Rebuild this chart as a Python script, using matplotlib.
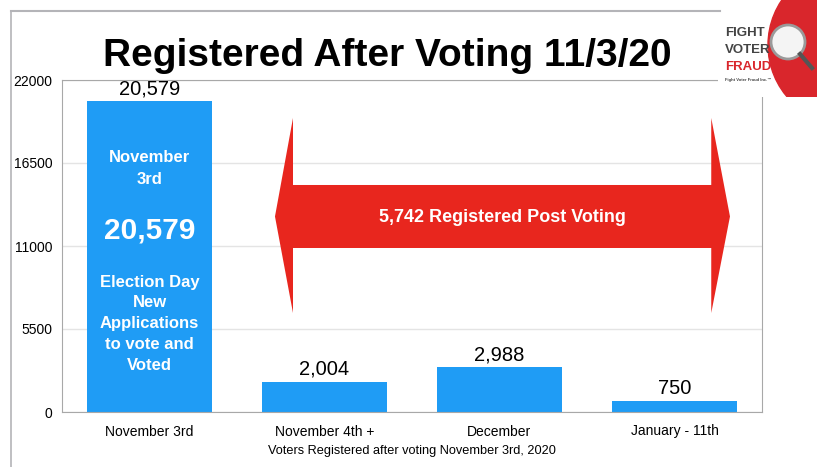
import matplotlib
matplotlib.use("Agg")
import matplotlib.pyplot as plt
from matplotlib.patches import Polygon, Circle, Rectangle
from matplotlib.lines import Line2D

plt.rcParams["font.family"] = ["Liberation Sans", "DejaVu Sans"]

# data
categories = ["November 3rd", "November 4th +", "December", "January - 11th"]
registered = [20579, 2004, 2988, 750]
value_labels = ["20,579", "2,004", "2,988", "750"]
y_ticks = [0, 5500, 11000, 16500, 22000]
post_voting_total = "5,742 Registered Post Voting"

BLUE = "#1f9cf5"
RED = "#e8261e"

fig = plt.figure(figsize=(8.17, 4.67), dpi=100)
ax = fig.add_axes([62 / 817, 1 - 412 / 467, 700 / 817, 332 / 467])

x = list(range(len(categories)))
ax.bar(x, registered, width=0.714, color=BLUE, zorder=2)
ax.set_xlim(-0.5, 3.5)
ax.set_ylim(0, 22000)
ax.set_yticks(y_ticks)
ax.set_yticklabels([str(t) for t in y_ticks], fontsize=10)
ax.set_xticks(x)
ax.set_xticklabels(categories, fontsize=10)
ax.tick_params(length=0, pad=7)
ax.tick_params(axis="x", pad=9)
ax.grid(axis="y", color="#e4e4e4", linewidth=1, zorder=0)
for s in ax.spines.values():
    s.set_color("#a8a8a8")
ax.set_xlabel("Voters Registered after voting November 3rd, 2020", fontsize=9.2, labelpad=5)

# value labels above bars
for xi, v, lab in zip(x, registered, value_labels):
    ax.annotate(lab, (xi, v), xytext=(0, 2), textcoords="offset points",
                ha="center", va="bottom", fontsize=14.5)

# text inside the first bar
ax.text(0, 16150, "November\n3rd", color="white", fontweight="bold",
        fontsize=12, ha="center", va="center", linespacing=1.55)
ax.text(0, 12060, value_labels[0], color="white", fontweight="bold",
        fontsize=21.5, ha="center", va="center")
ax.text(0, 5850, "Election Day\nNew\nApplications\nto vote and\nVoted", color="white",
        fontweight="bold", fontsize=12, ha="center", va="center", linespacing=1.48)

# double-headed red arrow
arrow = Polygon([(0.717, 12956), (0.82, 19483), (0.82, 15043), (3.21, 15043),
                 (3.21, 19483), (3.317, 12956), (3.21, 6561), (3.21, 10868),
                 (0.82, 10868), (0.82, 6561)], closed=True, color=RED, zorder=3, lw=0)
ax.add_patch(arrow)
ax.text(2.017, 12900, post_voting_total, color="white", fontweight="bold",
        fontsize=13, ha="center", va="center", zorder=4)

# title
fig.text(387 / 817, 1 - 66 / 467, "Registered After Voting 11/3/20",
         ha="center", va="baseline", fontsize=28, fontweight="bold")

# screenshot border
fig.add_artist(Line2D([11 / 817, 720 / 817], [1 - 11 / 467, 1 - 11 / 467],
                      transform=fig.transFigure, color="#b4b4b8", lw=1.5))
fig.add_artist(Line2D([11 / 817, 11 / 817], [1 - 11 / 467, 0],
                      transform=fig.transFigure, color="#b4b4b8", lw=1.2))

# logo
lax = fig.add_axes([718 / 817, 1 - 97 / 467, 99 / 817, 97 / 467])
lax.set_xlim(0, 99)
lax.set_ylim(97, 0)
lax.axis("off")
lax.add_patch(Rectangle((0, 0), 99, 97, color="white", zorder=0))
lax.add_patch(Circle((130, 45), 80, color="#d9262c", zorder=1))
lax.add_patch(Circle((70, 42), 17, facecolor="#f4f4f4", edgecolor="#9a9a9a", lw=2, zorder=2))
lax.plot([82, 94], [54, 68], color="#555555", lw=3, zorder=2)
lax.text(7, 33, "FIGHT", fontsize=9.5, fontweight="bold", color="#444444",
         va="center", ha="left", zorder=3)
lax.text(7, 50, "VOTER", fontsize=9.5, fontweight="bold", color="#444444",
         va="center", ha="left", zorder=3)
lax.text(7, 67, "FRAUD", fontsize=9.5, fontweight="bold", color="#d9262c",
         va="center", ha="left", zorder=3)
lax.text(7, 80, "Fight Voter Fraud Inc.\u2122", fontsize=3, fontweight="bold",
         color="#444444", va="center", ha="left", zorder=3)

fig.savefig("out.png", dpi=100)
